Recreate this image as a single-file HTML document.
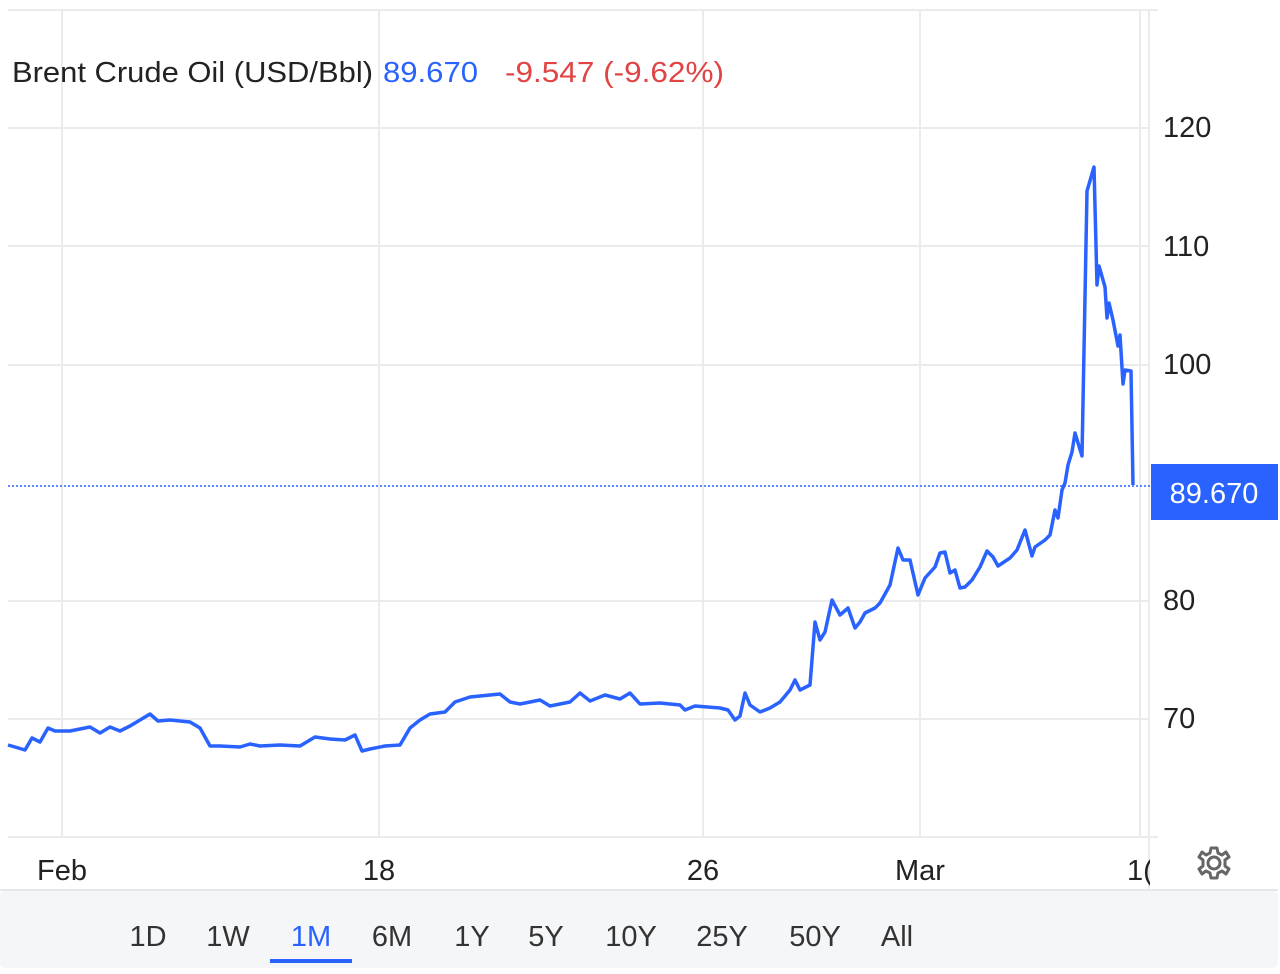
<!DOCTYPE html>
<html><head><meta charset="utf-8"><style>
body{margin:0;background:#fff;width:1280px;height:974px;overflow:hidden;font-family:"Liberation Sans",Arial,sans-serif}
</style></head><body>
<svg width="1280" height="974" viewBox="0 0 1280 974" xmlns="http://www.w3.org/2000/svg" style="position:absolute;left:0;top:0">
<rect x="0" y="890" width="1278" height="78" fill="#f5f6f8" rx="6"/>
<line x1="0" y1="890" x2="1278" y2="890" stroke="#e6e7ea" stroke-width="2"/>
<g stroke="#ebebeb" stroke-width="2">
<line x1="8" y1="10" x2="1158" y2="10"/>
<line x1="8" y1="128" x2="1150" y2="128"/>
<line x1="8" y1="246" x2="1150" y2="246"/>
<line x1="8" y1="365" x2="1150" y2="365"/>
<line x1="8" y1="601" x2="1150" y2="601"/>
<line x1="8" y1="719" x2="1150" y2="719"/>
<line x1="8" y1="837" x2="1158" y2="837"/>
<line x1="62" y1="10" x2="62" y2="837"/>
<line x1="379" y1="10" x2="379" y2="837"/>
<line x1="703" y1="10" x2="703" y2="837"/>
<line x1="920" y1="10" x2="920" y2="837"/>
<line x1="1140" y1="10" x2="1140" y2="837"/>
<line x1="1149" y1="10" x2="1149" y2="890"/>
</g>
<line x1="8" y1="486" x2="1150" y2="486" stroke="#2962ff" stroke-width="1.5" stroke-dasharray="2,2"/>
<polyline fill="none" stroke="#2962ff" stroke-width="3.5" stroke-linejoin="round" points="8,745 15,747 25,750 32,738 40,742 48,728 55,731 70,731 80,729 90,727 100,733 110,727 120,731 130,726 140,720 150,714 158,721 170,720 190,722 200,728 210,746 220,746 240,747 250,744 260,746 280,745 300,746 315,737 330,739 345,740 355,735 362,751 370,749 385,746 400,745 410,728 420,720 430,714 445,712 455,702 470,697 500,694 510,702 520,704 540,700 550,706 570,702 580,693 590,701 605,695 620,699 630,693 640,704 660,703 680,705 685,710 695,706 720,708 728,710 735,720 740,716 745,693 750,705 760,712 770,708 780,702 790,690 795,680 800,690 810,685 815,622 820,640 825,632 832,600 840,615 848,608 855,628 860,622 865,613 875,608 880,603 890,585 898,548 903,560 910,560 918,595 925,578 935,567 940,553 945,552 950,573 955,570 960,588 965,587 972,580 980,567 987,551 993,557 998,566 1010,558 1017,550 1025,530 1032,556 1035,547 1045,540 1050,535 1055,510 1058,518 1062,490 1065,483 1068,465 1072,452 1075,433 1082,456 1087,191 1094,167 1097,285 1099,266 1105,287 1107,318 1109,303 1113,320 1118,346 1120,335 1123,384 1125,370 1131,371 1133,485"/>
<g font-size="29">
<text x="12" y="82" fill="#222" textLength="361" lengthAdjust="spacingAndGlyphs">Brent Crude Oil (USD/Bbl)</text>
<text x="383" y="82" fill="#2962ff" textLength="95" lengthAdjust="spacingAndGlyphs">89.670</text>
<text x="505" y="82" fill="#e04444" textLength="219" lengthAdjust="spacingAndGlyphs">-9.547 (-9.62%)</text>
</g>
<g font-size="29" fill="#222">
<text x="1163" y="137">120</text>
<text x="1163" y="256">110</text>
<text x="1163" y="374">100</text>
<text x="1163" y="610">80</text>
<text x="1163" y="728">70</text>
</g>
<rect x="1151" y="464" width="127" height="56" fill="#2962ff"/>
<text x="1214" y="503" font-size="29" fill="#fff" text-anchor="middle">89.670</text>
<g font-size="29" fill="#222" text-anchor="middle">
<text x="62" y="880">Feb</text>
<text x="379" y="880">18</text>
<text x="703" y="880">26</text>
<text x="920" y="880">Mar</text>
</g>
<text x="1127" y="880" font-size="29" fill="#222">1(</text>
<rect x="1150" y="850" width="20" height="38" fill="#fff"/>
<g transform="translate(1214,863)" fill="none" stroke="#666" stroke-width="3">
<circle r="6"/>
<path d="M-3,-15 L3,-15 L4,-10 L8,-8 L12,-11 L15,-6 L11,-3 L11,3 L15,6 L12,11 L8,8 L4,10 L3,15 L-3,15 L-4,10 L-8,8 L-12,11 L-15,6 L-11,3 L-11,-3 L-15,-6 L-12,-11 L-8,-8 L-4,-10 Z" stroke-linejoin="round"/>
</g>
<g font-size="29" fill="#333" text-anchor="middle">
<text x="148" y="946">1D</text>
<text x="228" y="946">1W</text>
<text x="311" y="946" fill="#2962ff">1M</text>
<text x="392" y="946">6M</text>
<text x="472" y="946">1Y</text>
<text x="546" y="946">5Y</text>
<text x="631" y="946">10Y</text>
<text x="722" y="946">25Y</text>
<text x="815" y="946">50Y</text>
<text x="897" y="946">All</text>
</g>
<rect x="270" y="959" width="82" height="4" fill="#2962ff"/>
</svg>
</body></html>
